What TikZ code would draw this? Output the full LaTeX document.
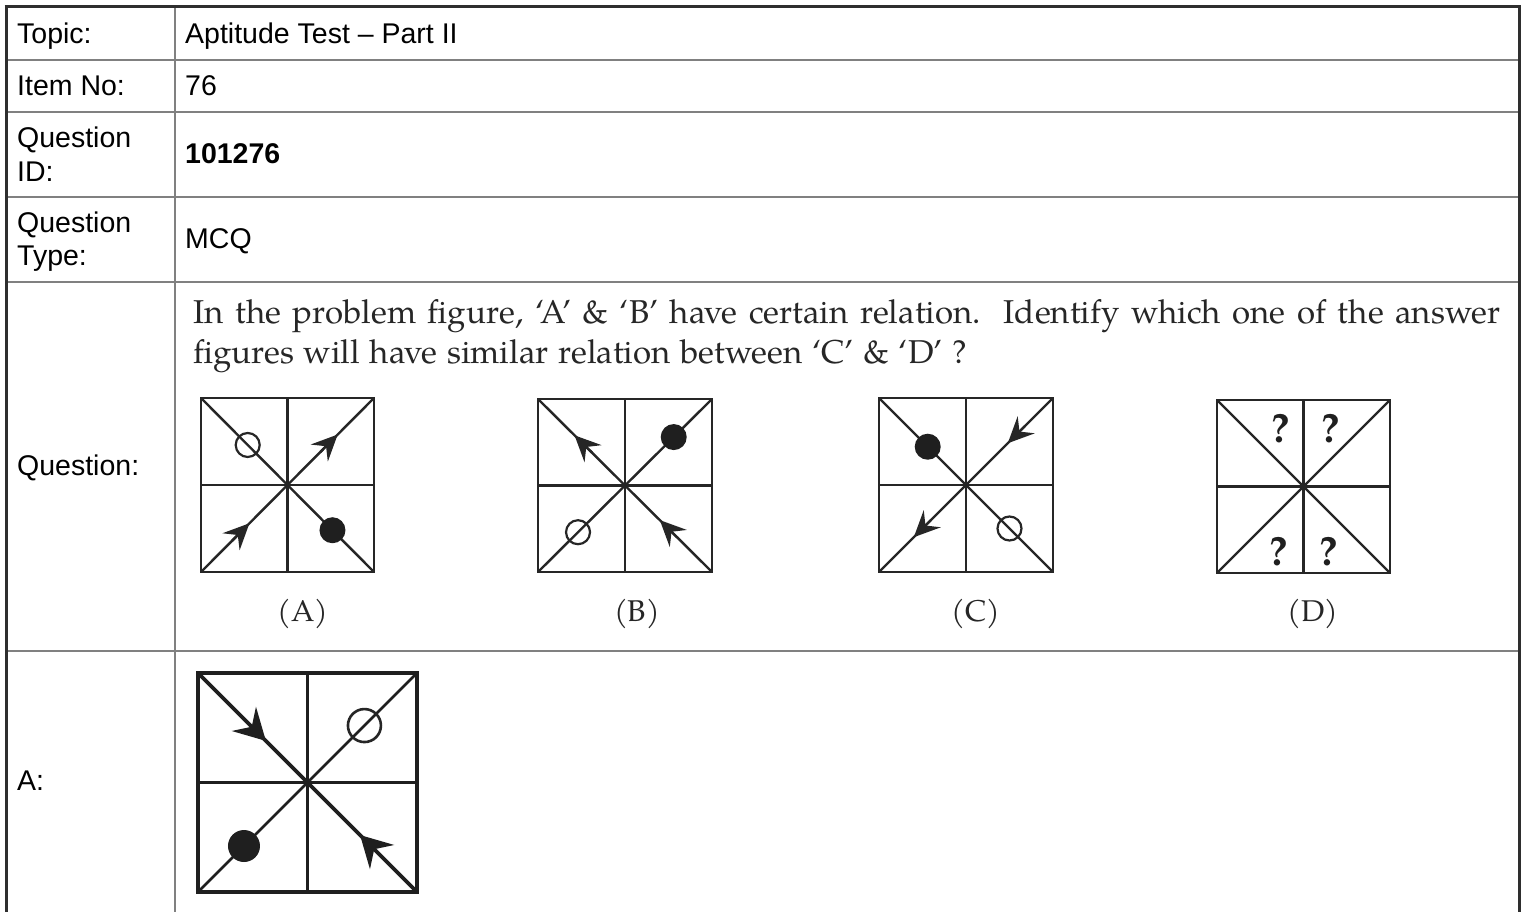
\documentclass[tikz,border=0pt]{standalone}
\usepackage{fontspec}
\setmainfont{texgyrepagella}[Extension=.otf,UprightFont=*-regular,BoldFont=*-bold,ItalicFont=*-italic,BoldItalicFont=*-bolditalic]
\newfontfamily\tabfont{Liberation Sans}
\usetikzlibrary{arrows.meta,calc}
\tikzset{
  outerline/.style={draw=black!82,line width=3pt},
  innerline/.style={draw=black!50,line width=2pt},
  figline/.style={draw=black!85,line width=2.4pt},
  bigline/.style={draw=black!88,line width=3.2pt},
  lbl/.style={anchor=base west,inner sep=0pt,font=\tabfont\fontsize{28.5}{32}\selectfont},
  qtext/.style={anchor=base west,inner sep=0pt,font=\fontsize{33}{38}\selectfont,text=black!85},
  figlabel/.style={anchor=base,inner sep=0pt,font=\fontsize{30}{34}\selectfont,text=black!85},
  qmark/.style={inner sep=0pt,font=\bfseries\fontsize{41}{44}\selectfont,text=black!88},
  arrowhead/.style={draw=black!85,line width=2.4pt,-{Stealth[length=26pt,width=24pt,inset=9.5pt]}},
  bigarrow/.style={draw=black!88,line width=3pt,-{Stealth[length=31pt,width=34pt,inset=11pt]}},
  opendot/.style={draw=black!85,line width=2.2pt},
  fulldot/.style={fill=black!88,draw=none},
}
\newcommand\qsq[5]{% name, x1,y1,x2,y2
  \coordinate (#1nw) at (#2,#3);
  \coordinate (#1ne) at (#4,#3);
  \coordinate (#1sw) at (#2,#5);
  \coordinate (#1se) at (#4,#5);
  \draw[figline] (#1nw) rectangle (#1se);
  \draw[figline] ($(#1nw)!0.5!(#1ne)$) -- ($(#1sw)!0.5!(#1se)$);
  \draw[figline] ($(#1nw)!0.5!(#1sw)$) -- ($(#1ne)!0.5!(#1se)$);
  \draw[figline] (#1nw) -- (#1se);
  \draw[figline] (#1sw) -- (#1ne);
}
\begin{document}
\begin{tikzpicture}[x=1pt,y=-1pt]
\useasboundingbox (0,0) rectangle (1522,912);
\fill[white] (0,0) rectangle (1522,912);
% table grid
\foreach \yy in {60,112,197,282,651}{
  \draw[innerline] (6,\yy) -- (1519,\yy);
}
\draw[innerline] (175,7) -- (175,912);
\draw[outerline] (6,5.5) -- (6,912);
\draw[outerline] (4.5,7) -- (1520.5,7);
\draw[outerline] (1519,5.5) -- (1519,912);
% left column labels
\node[lbl] (l1) at (17,44) {Topic:};
\node[lbl] (l2) at (17,96) {Item No:};
\node[lbl] (l3a) at (17,148) {Question};
\node[lbl] (l3b) at (17,182) {ID:};
\node[lbl] (l4a) at (17,232) {Question};
\node[lbl] (l4b) at (17,265) {Type:};
\node[lbl] (l5) at (17,475) {Question:};
\node[lbl] (l6) at (17,790) {A:};
% right column values
\node[lbl] (v1) at (185,44) {Aptitude Test – Part II};
\node[lbl] (v2) at (185,96) {76};
\node[lbl,font=\tabfont\bfseries\fontsize{28.5}{32}\selectfont] (v3) at (185,164) {101276};
\node[lbl] (v4) at (185,248) {MCQ};
% question text
\node[qtext] (q1) at (193,323) {\hbox to 1307pt{In the problem figure, ‘A’ \& ‘B’ have certain relation.\ \ Identify which one of the answer}};
\node[qtext] (q2) at (193,363) {\hbox to 774pt{figures will have similar relation between ‘C’ \& ‘D’ ?}};
% figure A
\qsq{a}{201}{398}{374}{572}
\draw[opendot] ($(anw)!0.27!(ase)$) circle[radius=12pt];
\fill[fulldot] ($(anw)!0.76!(ase)$) circle[radius=13pt];
\draw[arrowhead] ($(asw)!0.69!(ane)$) -- ($(asw)!0.79!(ane)$);
\draw[arrowhead] ($(asw)!0.18!(ane)$) -- ($(asw)!0.28!(ane)$);
\node[figlabel] (la) at (303,621) {(A)};
% figure B
\qsq{b}{538}{399}{712}{572}
\draw[arrowhead] ($(bnw)!0.31!(bse)$) -- ($(bnw)!0.21!(bse)$);
\fill[fulldot] ($(bsw)!0.78!(bne)$) circle[radius=13pt];
\draw[opendot] ($(bsw)!0.23!(bne)$) circle[radius=12pt];
\draw[arrowhead] ($(bnw)!0.80!(bse)$) -- ($(bnw)!0.70!(bse)$);
\node[figlabel] (lb) at (637,621) {(B)};
% figure C
\qsq{c}{879}{398}{1053}{572}
\fill[fulldot] ($(cnw)!0.28!(cse)$) circle[radius=13pt];
\draw[arrowhead] ($(csw)!0.84!(cne)$) -- ($(csw)!0.74!(cne)$);
\draw[arrowhead] ($(csw)!0.30!(cne)$) -- ($(csw)!0.20!(cne)$);
\draw[opendot] ($(cnw)!0.75!(cse)$) circle[radius=12pt];
\node[figlabel] (lc) at (976,621) {(C)};
% figure D
\qsq{d}{1217}{400}{1390}{573}
\node[qmark] (d1) at (1281,429) {?};
\node[qmark] (d2) at (1331,429) {?};
\node[qmark] (d3) at (1279,552) {?};
\node[qmark] (d4) at (1329,552) {?};
\node[figlabel] (ld) at (1313,621) {(D)};
% answer figure
\coordinate (xnw) at (198,673);
\coordinate (xne) at (417,673);
\coordinate (xsw) at (198,892);
\coordinate (xse) at (417,892);
\draw[bigline] (xnw) rectangle (xse);
\draw[draw=black!88,line width=2.8pt] ($(xnw)!0.5!(xne)$) -- ($(xsw)!0.5!(xse)$);
\draw[draw=black!88,line width=2.8pt] ($(xnw)!0.5!(xsw)$) -- ($(xne)!0.5!(xse)$);
\draw[draw=black!88,line width=3.6pt] (xnw) -- (xse);
\draw[draw=black!88,line width=2.6pt] (xsw) -- (xne);
\draw[bigarrow] ($(xnw)!0.21!(xse)$) -- ($(xnw)!0.31!(xse)$);
\draw[opendot,line width=2.6pt] ($(xsw)!0.76!(xne)$) circle[radius=16.5pt];
\fill[fulldot] ($(xsw)!0.21!(xne)$) circle[radius=16pt];
\draw[bigarrow] ($(xnw)!0.84!(xse)$) -- ($(xnw)!0.74!(xse)$);
\end{tikzpicture}
\end{document}
